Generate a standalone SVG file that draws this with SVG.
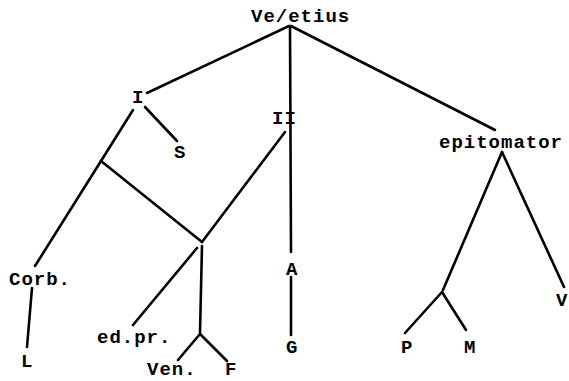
<svg xmlns="http://www.w3.org/2000/svg" width="569" height="381" viewBox="0 0 569 381">
<style>
.t{font-family:"Liberation Mono","DejaVu Sans Mono",monospace;font-weight:bold;font-size:19px;letter-spacing:1px;fill:#000}
.c line,.c polyline{stroke:#000;stroke-width:2.6;fill:none;stroke-linecap:round;stroke-linejoin:round}
</style>
<rect width="569" height="381" fill="#fff"/>
<g class="c" id="connectors">
<line x1="289" y1="26" x2="147" y2="93"/>
<line x1="290" y1="26" x2="291" y2="252"/>
<line x1="291" y1="26" x2="495" y2="130"/>
<line x1="133" y1="110" x2="101" y2="161"/>
<line x1="101" y1="161" x2="35" y2="266"/>
<line x1="145" y1="107" x2="177" y2="141"/>
<line x1="101" y1="161" x2="202" y2="242"/>
<line x1="285" y1="132" x2="202" y2="242"/>
<line x1="202" y1="246" x2="200" y2="333"/>
<line x1="197" y1="248" x2="133" y2="325"/>
<polyline points="178,360 200,334 227,361"/>
<line x1="32" y1="288" x2="27" y2="347"/>
<line x1="291" y1="277" x2="291" y2="335"/>
<line x1="502" y1="152" x2="443" y2="290"/>
<line x1="502" y1="152" x2="564" y2="287"/>
<polyline points="405,333 442,292 466,330"/>
</g>
<g id="n-vegetius"><text class="t" x="251" y="22">Ve/etius</text></g>
<g id="n-I"><text class="t" x="132" y="103">I</text></g>
<g id="n-II"><text class="t" x="272" y="124">II</text></g>
<g id="n-epitomator"><text class="t" x="439" y="148">epitomator</text></g>
<g id="n-S"><text class="t" x="174" y="158">S</text></g>
<g id="n-A"><text class="t" x="286" y="275">A</text></g>
<g id="n-G"><text class="t" x="286" y="353">G</text></g>
<g id="n-corb"><text class="t" x="9" y="285">Corb.</text></g>
<g id="n-L"><text class="t" x="21" y="367">L</text></g>
<g id="n-edpr"><text class="t" x="97" y="343">ed.pr.</text></g>
<g id="n-ven"><text class="t" x="147" y="375">Ven.</text></g>
<g id="n-F"><text class="t" x="225" y="375">F</text></g>
<g id="n-P"><text class="t" x="401" y="353">P</text></g>
<g id="n-M"><text class="t" x="464" y="353">M</text></g>
<g id="n-V"><text class="t" x="556" y="306">V</text></g>
</svg>
